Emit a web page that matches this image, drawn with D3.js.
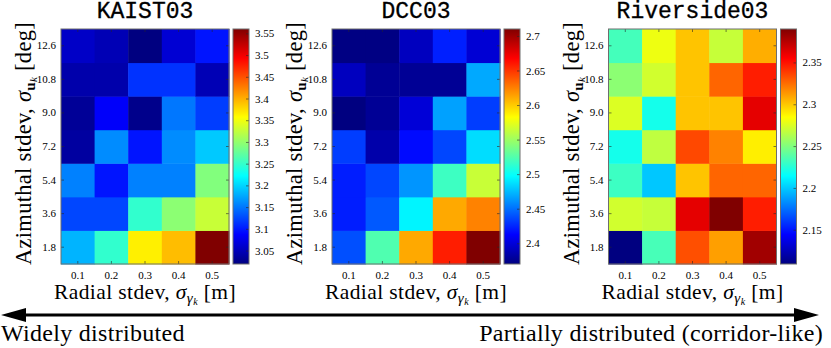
<!DOCTYPE html>
<html lang="en">
<head>
<meta charset="utf-8">
<title>Heatmaps</title>
<style>
  body { margin: 0; background: #fff; }
  svg text { font-family: "Liberation Serif", "Times New Roman", serif; fill: #000; }
</style>
</head>
<body>
<div id="chart"></div>
<script src="https://d3js.org/d3.v7.min.js"></script>
<script type="text/javascript">

    // axis categories
    var radial = ["0.1", "0.2", "0.3", "0.4", "0.5"];
    var azimuth = ["1.8", "3.6", "5.4", "7.2", "9.0", "10.8", "12.6"];

    // rows follow azimuth (1.8 -> 12.6), columns follow radial (0.1 -> 0.5)
    var kaist = [
        [3.182, 3.248, 3.365, 3.392, 3.560],
        [3.124, 3.124, 3.248, 3.296, 3.328],
        [3.155, 3.097, 3.155, 3.155, 3.291],
        [3.036, 3.161, 3.097, 3.161, 3.193],
        [3.031, 3.084, 3.025, 3.150, 3.119],
        [3.042, 3.042, 3.113, 3.113, 3.047],
        [3.057, 3.047, 3.019, 3.063, 3.097]
    ];
    var dcc = [
        [2.439, 2.524, 2.611, 2.658, 2.710],
        [2.422, 2.442, 2.494, 2.611, 2.624],
        [2.422, 2.436, 2.462, 2.518, 2.564],
        [2.433, 2.384, 2.416, 2.436, 2.486],
        [2.370, 2.377, 2.399, 2.466, 2.433],
        [2.391, 2.377, 2.377, 2.377, 2.469],
        [2.371, 2.371, 2.391, 2.423, 2.398]
    ];
    var riverside = [
        [2.109, 2.234, 2.333, 2.311, 2.381],
        [2.272, 2.269, 2.362, 2.390, 2.347],
        [2.231, 2.199, 2.301, 2.327, 2.327],
        [2.220, 2.267, 2.335, 2.319, 2.289],
        [2.275, 2.220, 2.301, 2.301, 2.362],
        [2.253, 2.272, 2.301, 2.327, 2.347],
        [2.233, 2.280, 2.301, 2.269, 2.307]
    ];

    var titles = ["KAIST03", "DCC03", "Riverside03"];
    var kaistTicks = [3.05, 3.1, 3.15, 3.2, 3.25, 3.3, 3.35, 3.4, 3.45, 3.5, 3.55];
    var dccTicks = [2.4, 2.45, 2.5, 2.55, 2.6, 2.65, 2.7];
    var riversideTicks = [2.15, 2.2, 2.25, 2.3, 2.35];

    var panels = [
        {title: titles[0], data: kaist, ticks: kaistTicks, left: 61},
        {title: titles[1], data: dcc, ticks: dccTicks, left: 332},
        {title: titles[2], data: riverside, ticks: riversideTicks, left: 608.5}
    ];

    var width = 831, height = 348;
    var mapTop = 29, mapH = 235, mapW = 168;
    var cbGap = 4, cbW = 16;
    var axisColor = "#262626";
    var serif = "'Liberation Serif', 'Times New Roman', serif";

    // MATLAB jet
    var jetStops = [0, 0.125, 0.375, 0.625, 0.875, 1];
    var jetColors = ["#000080", "#0000ff", "#00ffff", "#ffff00", "#ff0000", "#800000"];

    var svg = d3.select("#chart")
            .append("svg")
            .attr("width", width)
            .attr("height", height);

    var defs = svg.append("defs");

    var x = d3.scaleBand().domain(radial).range([0, mapW]);
    var y = d3.scaleBand().domain(azimuth).range([mapH, 0]);

    function styleAxis(a) {
        a.select(".domain").remove();
        a.selectAll("line").attr("stroke", axisColor).attr("stroke-width", 0.6);
        a.selectAll("text")
                .style("font-family", serif)
                .style("font-size", "11px")
                .attr("fill", axisColor);
    }

    panels.forEach(function (p, pi) {
        var flat = d3.merge(p.data);
        var ext = d3.extent(flat);
        var color = d3.scaleLinear()
                .domain(jetStops.map(function (t) { return ext[0] + t * (ext[1] - ext[0]); }))
                .range(jetColors);

        var g = svg.append("g")
                .attr("transform", "translate(" + p.left + "," + mapTop + ")");

        // cells
        var cells = [];
        p.data.forEach(function (row, ri) {
            row.forEach(function (v, ci) {
                cells.push({az: azimuth[ri], rad: radial[ci], value: v});
            });
        });

        g.selectAll(".cell")
                .data(cells)
                .enter().append("rect")
                .attr("class", "cell")
                .attr("x", function (d) { return x(d.rad); })
                .attr("y", function (d) { return y(d.az); })
                .attr("width", x.bandwidth() + 0.5)
                .attr("height", y.bandwidth() + 0.5)
                .attr("fill", function (d) { return color(d.value); });

        // axes with inward ticks
        var yl = g.append("g").call(d3.axisLeft(y).tickSizeInner(-3).tickSizeOuter(0).tickPadding(5));
        var yr = g.append("g").attr("transform", "translate(" + mapW + ",0)")
                .call(d3.axisRight(y).tickSizeInner(-3).tickSizeOuter(0).tickFormat(""));
        var xb = g.append("g").attr("transform", "translate(0," + mapH + ")")
                .call(d3.axisBottom(x).tickSizeInner(-3).tickSizeOuter(0).tickPadding(7));
        var xt = g.append("g")
                .call(d3.axisTop(x).tickSizeInner(-3).tickSizeOuter(0).tickFormat(""));
        [yl, yr, xb, xt].forEach(styleAxis);

        g.append("rect")
                .attr("width", mapW).attr("height", mapH)
                .attr("fill", "none")
                .attr("stroke", "#6e6e6e")
                .attr("stroke-width", 1);

        // colorbar
        var gid = "jet" + pi;
        var grad = defs.append("linearGradient")
                .attr("id", gid)
                .attr("x1", 0).attr("y1", 1).attr("x2", 0).attr("y2", 0);
        grad.selectAll("stop")
                .data(jetStops)
                .enter().append("stop")
                .attr("offset", function (d) { return d; })
                .attr("stop-color", function (d, i) { return jetColors[i]; });

        var cb = g.append("g").attr("transform", "translate(" + (mapW + cbGap) + ",0)");
        var cy = d3.scaleLinear().domain(ext).range([mapH, 0]);
        cb.append("rect")
                .attr("width", cbW).attr("height", mapH)
                .attr("fill", "url(#" + gid + ")");
        var ca = cb.append("g").attr("transform", "translate(" + cbW + ",0)")
                .call(d3.axisRight(cy).tickValues(p.ticks).tickSizeInner(-3).tickSizeOuter(0).tickPadding(6)
                        .tickFormat(d3.format("")));
        styleAxis(ca);
        cb.append("rect")
                .attr("width", cbW).attr("height", mapH)
                .attr("fill", "none")
                .attr("stroke", "#6e6e6e")
                .attr("stroke-width", 1);

        // title
        g.append("text")
                .attr("x", mapW / 2)
                .attr("y", -11)
                .attr("text-anchor", "middle")
                .attr("stroke", "#000")
                .attr("stroke-width", 0.3)
                .style("font-family", "'Liberation Mono', monospace")
                .style("font-size", "23px")
                .text(p.title);

        // y label
        var yt = g.append("text")
                .attr("transform", "translate(-30," + (mapH / 2 - 3) + ") rotate(-90)")
                .attr("text-anchor", "middle")
                .style("font-size", "22.5px")
                .style("letter-spacing", "0.3px");
        yt.append("tspan").text("Azimuthal stdev, ");
        yt.append("tspan").style("font-style", "italic").text("σ");
        yt.append("tspan").attr("dy", 4).style("font-size", "15px").style("font-weight", "bold").text("u");
        yt.append("tspan").attr("dy", 2).style("font-size", "11px").style("font-style", "italic").text("k");
        yt.append("tspan").attr("dy", -6).text(" [deg]");

        // x label
        var xl = g.append("text")
                .attr("x", mapW / 2)
                .attr("y", mapH + 35)
                .attr("text-anchor", "middle")
                .style("font-size", "21.5px")
                .style("letter-spacing", "0.4px");
        xl.append("tspan").text("Radial stdev, ");
        xl.append("tspan").style("font-style", "italic").text("σ");
        xl.append("tspan").attr("dy", 4).style("font-size", "15px").style("font-style", "italic").text("γ");
        xl.append("tspan").attr("dy", 2).style("font-size", "10px").style("font-style", "italic").text("k");
        xl.append("tspan").attr("dy", -6).text(" [m]");
    });

    // double-headed arrow
    var ay = 315;
    svg.append("line")
            .attr("x1", 20).attr("x2", 800)
            .attr("y1", ay).attr("y2", ay)
            .attr("stroke", "#000")
            .attr("stroke-width", 3);
    svg.append("path")
            .attr("d", "M1," + ay + "L26," + (ay - 7) + "L26," + (ay + 7) + "Z")
            .attr("fill", "#000");
    svg.append("path")
            .attr("d", "M819," + ay + "L794," + (ay - 7) + "L794," + (ay + 7) + "Z")
            .attr("fill", "#000");

    svg.append("text")
            .attr("x", 1).attr("y", 341)
            .style("font-size", "24px")
            .style("letter-spacing", "0.3px")
            .text("Widely distributed");
    svg.append("text")
            .attr("x", 823).attr("y", 341)
            .attr("text-anchor", "end")
            .style("font-size", "24px")
            .style("letter-spacing", "0.3px")
            .text("Partially distributed (corridor-like)");

</script>
</body>
</html>
